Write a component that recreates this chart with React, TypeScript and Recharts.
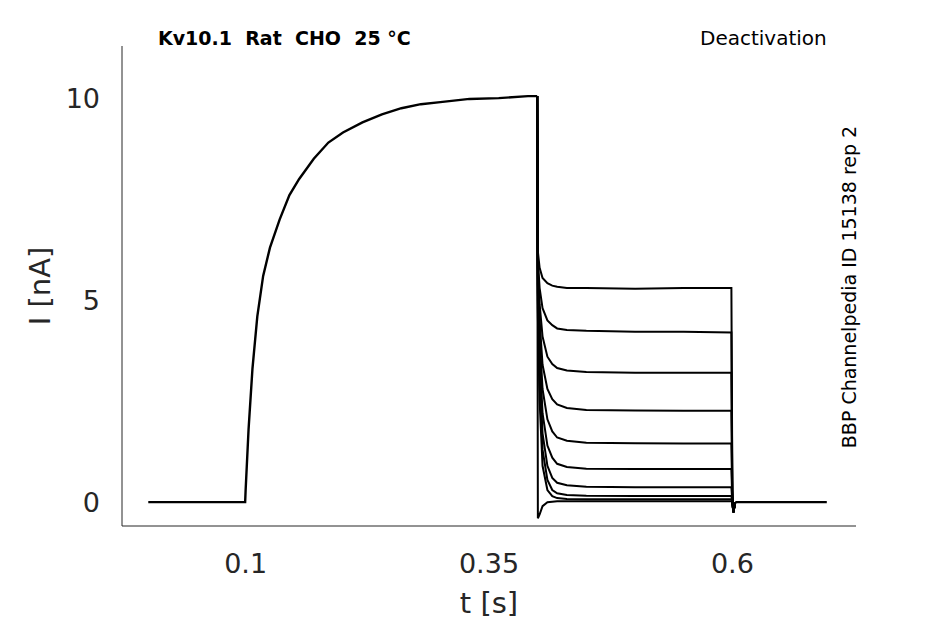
import { LineChart, Line, XAxis, YAxis } from 'recharts';

// activation trace: baseline, step at 0.1 s, rise to ~10 nA at 0.4 s
const RISE_T = [0, 0.05, 0.0995, 0.1, 0.103, 0.107, 0.112, 0.118, 0.125, 0.135, 0.145, 0.155, 0.17, 0.185, 0.2, 0.22, 0.24, 0.26, 0.28, 0.3, 0.33, 0.36, 0.39, 0.3995];
const RISE_I = [0, 0, 0, 0.3, 1.8, 3.3, 4.6, 5.6, 6.3, 7.0, 7.6, 8.0, 8.5, 8.9, 9.15, 9.4, 9.6, 9.75, 9.85, 9.9, 9.98, 10.0, 10.05, 10.05];

// deactivation traces (0.4 - 0.6 s)
const DEACT_T = [0.3995, 0.4002, 0.402, 0.405, 0.41, 0.415, 0.42, 0.43, 0.45, 0.5, 0.55, 0.599, 0.6, 0.601, 0.603];
const DEACT_I = [
  [10.05, 6.2, 5.8, 5.55, 5.42, 5.36, 5.33, 5.3, 5.3, 5.28, 5.3, 5.3, 0.3, -0.25, 0],
  [10.05, 6.0, 5.3, 4.8, 4.5, 4.38, 4.3, 4.26, 4.24, 4.22, 4.22, 4.2, 0.2, -0.25, 0],
  [10.05, 5.8, 4.9, 4.1, 3.6, 3.42, 3.32, 3.26, 3.22, 3.2, 3.2, 3.2, 0.1, -0.25, 0],
  [10.05, 5.6, 4.5, 3.4, 2.8, 2.55, 2.42, 2.33, 2.28, 2.27, 2.26, 2.26, 0.05, -0.25, 0],
  [10.05, 5.4, 4.1, 2.8, 2.05, 1.75, 1.6, 1.52, 1.47, 1.46, 1.45, 1.45, 0, -0.25, 0],
  [10.05, 5.2, 3.7, 2.2, 1.4, 1.1, 0.95, 0.87, 0.83, 0.82, 0.82, 0.82, 0, -0.25, 0],
  [10.05, 5.0, 3.3, 1.7, 0.9, 0.6, 0.48, 0.42, 0.38, 0.37, 0.37, 0.37, 0, -0.25, 0],
  [10.05, 4.8, 2.9, 1.3, 0.55, 0.3, 0.22, 0.18, 0.16, 0.15, 0.15, 0.15, 0, -0.25, 0],
  [10.05, 4.6, 2.5, 0.9, 0.3, 0.15, 0.1, 0.08, 0.07, 0.07, 0.07, 0.07, 0, -0.25, 0],
  [10.05, -0.4, -0.3, -0.1, 0, 0.01, 0.02, 0.02, 0.02, 0.02, 0.02, 0.02, 0, -0.25, 0],
];

const TAIL_T = [0.603, 0.65, 0.697];
const TAIL_I = [0, 0, 0];

const X_TICKS = [0.1, 0.35, 0.6];
const Y_TICKS = [0, 5, 10];

const rise = RISE_T.map((t, i) => ({ t, i: RISE_I[i] }));
const tail = TAIL_T.map((t, i) => ({ t, i: TAIL_I[i] }));
const deact = DEACT_I.map((row) => DEACT_T.map((t, k) => ({ t, i: row[k] })));

const font = 'DejaVu Sans, sans-serif';
const tick = { fontSize: 27, fill: '#262626', fontFamily: font };

export default function App() {
  return (
    <div style={{ position: 'absolute', left: 0, top: 0, width: 945, height: 624, background: '#fff', fontFamily: font }}>
      <LineChart width={945} height={624} margin={{ top: 46, right: 89, left: 62, bottom: 58 }}>
        <XAxis
          type="number"
          dataKey="t"
          domain={[-0.027, 0.727]}
          ticks={X_TICKS}
          tick={tick}
          tickLine={false}
          tickMargin={22}
          height={40}
          axisLine={{ stroke: '#262626' }}
          allowDataOverflow
        />
        <YAxis
          type="number"
          dataKey="i"
          domain={[-0.59, 11.29]}
          ticks={Y_TICKS}
          tick={tick}
          tickLine={false}
          tickMargin={16}
          width={60}
          axisLine={{ stroke: '#262626' }}
          allowDataOverflow
        />
        <Line data={rise} dataKey="i" stroke="#000" strokeWidth={2.4} dot={false} isAnimationActive={false} />
        {deact.map((d, k) => (
          <Line key={k} data={d} dataKey="i" stroke="#000" strokeWidth={2} dot={false} isAnimationActive={false} />
        ))}
        <Line data={tail} dataKey="i" stroke="#000" strokeWidth={2.4} dot={false} isAnimationActive={false} />
      </LineChart>
      <div style={{ position: 'absolute', left: 158, top: 27, fontSize: 19, fontWeight: 'bold', whiteSpace: 'pre' }}>Kv10.1  Rat  CHO  25 °C</div>
      <div style={{ position: 'absolute', left: 700, top: 26, fontSize: 20 }}>Deactivation</div>
      <div style={{ position: 'absolute', left: 849, top: 287, fontSize: 19, whiteSpace: 'nowrap', transform: 'translate(-50%, -50%) rotate(-90deg)' }}>BBP Channelpedia ID 15138 rep 2</div>
      <div style={{ position: 'absolute', left: 40, top: 286, fontSize: 29, color: '#262626', whiteSpace: 'nowrap', transform: 'translate(-50%, -50%) rotate(-90deg)' }}>I [nA]</div>
      <div style={{ position: 'absolute', left: 489, top: 603, fontSize: 29, color: '#262626', whiteSpace: 'nowrap', transform: 'translate(-50%, -50%)' }}>t [s]</div>
    </div>
  );
}
